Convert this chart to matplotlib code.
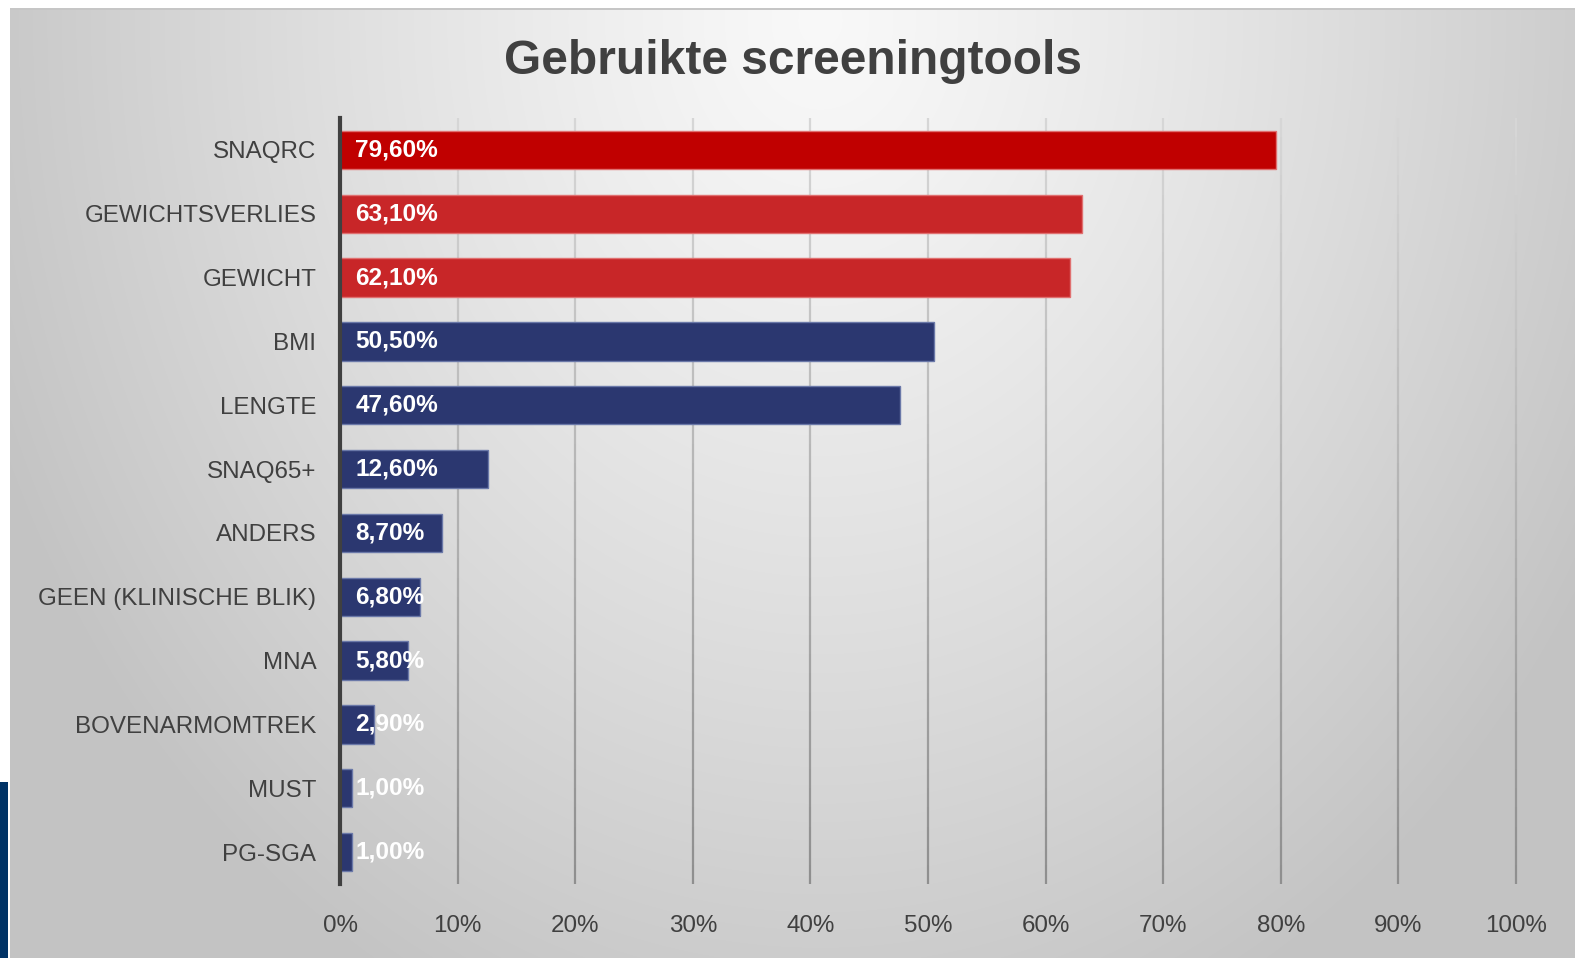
import numpy as np
import matplotlib.pyplot as plt
from matplotlib.collections import LineCollection

plt.rcParams['font.family'] = ['Liberation Sans', 'DejaVu Sans']

# data (top to bottom as in the chart)
tools = ['SNAQRC', 'GEWICHTSVERLIES', 'GEWICHT', 'BMI', 'LENGTE', 'SNAQ65+',
         'ANDERS', 'GEEN (KLINISCHE BLIK)', 'MNA', 'BOVENARMOMTREK', 'MUST', 'PG-SGA']
percentages = [79.6, 63.1, 62.1, 50.5, 47.6, 12.6, 8.7, 6.8, 5.8, 2.9, 1.0, 1.0]
value_labels = ['79,60%', '63,10%', '62,10%', '50,50%', '47,60%', '12,60%',
                '8,70%', '6,80%', '5,80%', '2,90%', '1,00%', '1,00%']
x_ticks = [0, 10, 20, 30, 40, 50, 60, 70, 80, 90, 100]

bar_colors = ['#c00000', '#c82628', '#c82628'] + ['#2b3770'] * 9
edge_colors = ['#e07070', '#e07070', '#e07070'] + ['#6a78a8'] * 9

W, H = 1575, 958
fig = plt.figure(figsize=(W / 100, H / 100), dpi=100)

# background: soft radial grey gradient, white margin top/left, blue strip
yy, xx = np.mgrid[0:H, 0:W]
r = np.sqrt(((xx - 820) / 900.0) ** 2 + ((yy - 20) / 1100.0) ** 2)
val = 0.975 - 0.21 * np.clip(r, 0, 1.0) ** 1.2
img = np.dstack([val, val, val])
img[:8, :, :] = 1.0
img[:, :10, :] = 1.0
img[8:10, 10:, :] = 0.78
img[782:, :8, :] = np.array([0, 0x33, 0x66]) / 255.0
bg = fig.add_axes([0, 0, 1, 1], zorder=-1)
bg.imshow(img, aspect='auto', extent=[0, W, H, 0])
bg.axis('off')

ax = fig.add_axes([340 / W, (H - 884) / H, 1176 / W, 766 / H])
ax.set_facecolor('none')
pos = np.arange(len(tools))
ax.barh(pos, percentages, height=0.6, color=bar_colors,
        edgecolor=edge_colors, linewidth=1.0, zorder=3)
for p, v, lab in zip(pos, percentages, value_labels):
    ax.text(1.3, p, lab, ha='left', va='center', color='white',
            fontsize=17.6, fontweight='bold', zorder=4)

ax.set_ylim(len(tools) - 0.5, -0.5)
ax.set_xlim(0, 100)

# vertical gridlines, lighter towards the top
n = 40
ys = np.linspace(len(tools) - 0.5, -0.5, n + 1)
shade = np.linspace(0.56, 0.84, n)
for t in x_ticks[1:]:
    segs = [[(t, ys[i]), (t, ys[i + 1])] for i in range(n)]
    lc = LineCollection(segs, colors=[(s, s, s) for s in shade], linewidths=1.6,
                        zorder=1, clip_on=False)
    ax.add_collection(lc)

ax.set_yticks(pos)
ax.set_yticklabels(tools, fontsize=17.4, color='#404040')
ax.set_xticks(x_ticks)
ax.set_xticklabels([f'{t}%' for t in x_ticks], fontsize=17.4, color='#404040')
ax.tick_params(axis='both', length=0)
ax.tick_params(axis='y', pad=17)
ax.tick_params(axis='x', pad=22)
for s in ['top', 'right', 'bottom']:
    ax.spines[s].set_visible(False)
ax.spines['left'].set_color('#404040')
ax.spines['left'].set_linewidth(3)
ax.spines['left'].set_zorder(5)

fig.text(793 / W, 1 - 61 / H, 'Gebruikte screeningtools', ha='center', va='center',
         fontsize=34.5, fontweight='bold', color='#404040')

fig.savefig('out.png', dpi=100)
